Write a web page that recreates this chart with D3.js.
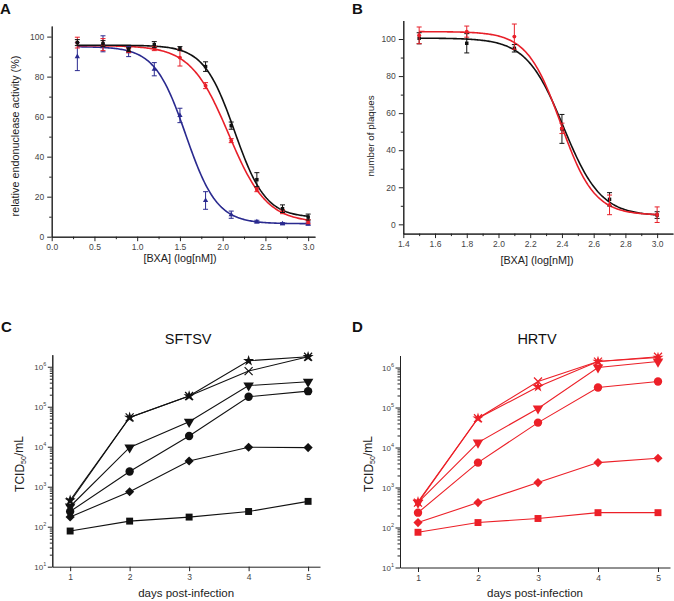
<!DOCTYPE html>
<html>
<head>
<meta charset="utf-8">
<script src="https://cdn.jsdelivr.net/npm/d3@7"></script>
<style>
  body { margin: 0; background: #fff; }
  text { font-family: "Liberation Sans", Arial, sans-serif; }
</style>
</head>
<body>
<script>
// ---- panel A: endonuclease activity (mean, error) ----
var doseA = [0.3, 0.6, 0.9, 1.2, 1.5, 1.8, 2.1, 2.4, 2.7, 3.0];
var blackA = [97, 96.5, 93.5, 96, 94, 85, 55.5, 28.5, 14, 9.8];
var blackAErr = [1.5, 1.5, 1, 1.5, 1, 2.4, 1.8, 3.5, 1.9, 1.5];
var redA = [97, 96, 93, 94, 89.5, 75.5, 48, 23.5, 12.5, 7.5];
var redAErr = [2.7, 3, 1, 1, 4.2, 1.5, 1, 1, 1, 1];
var blueA = [90, 96.4, 92.5, 83.7, 60.6, 18.1, 11, 7.5, 6.5, 6.5];
var blueAErr = [7, 4, 2.5, 3.3, 3.6, 4.4, 1.8, 0.7, 0.5, 0.8];
// fit parameters: top, bottom, logIC50, hill
var fitA = [[95.7, 9.5, 2.14, 2.4], [95.5, 7, 2.07, 1.95], [95, 6.5, 1.57, 2.38]];

// ---- panel B: plaque numbers ----
var doseB = [1.5, 1.8, 2.1, 2.4, 2.7, 3.0];
var blackB = [100.4, 97.7, 95, 51.5, 13.5, 5];
var blackBErr = [3, 5.2, 2, 7.8, 3.6, 1.8];
var redB = [102, 104, 101.3, 51.8, 10.5, 5.2];
var redBErr = [4.5, 3, 6.8, 2.8, 5.3, 4.2];
var fitB = [[100.5, 4.5, 2.41, 3.7], [104, 5, 2.392, 4.1]];

// ---- panels C/D: growth curves, TCID50/mL ----
var days = [1, 2, 3, 4, 5];
var markers = ["square", "diamond", "circle", "triangle", "x", "star"];
var sftsv = [
  [78, 138, 174, 240, 430],
  [175, 750, 4400, 9700, 9500],
  [240, 2400, 18500, 178000, 245000],
  [320, 9600, 42000, 339000, 422000],
  [420, 54000, 185000, 780000, 1780000],
  [460, 54000, 185000, 1410000, 1780000]
];
var hrtv = [
  [76, 133, 168, 235, 235],
  [133, 420, 1330, 4200, 5400],
  [235, 4200, 42000, 316000, 447000],
  [420, 13300, 95000, 1000000, 1410000],
  [420, 54000, 447000, 1410000, 1860000],
  [440, 54000, 330000, 1410000, 1780000]
];

var RED = "#e8202a", BLUE = "#2a2a8f", DRED = "#ec2028";

var svg = d3.select("body").append("svg")
  .attr("width", 674).attr("height", 601)
  .style("background", "#fff");

function styleAxis(g) {
  g.select(".domain").attr("stroke", "#222").attr("stroke-width", 1);
  g.selectAll(".tick line").attr("stroke", "#222");
  g.selectAll(".tick text").attr("font-size", "8.5px").attr("fill", "#444")
    .attr("font-family", "Liberation Sans, Arial, sans-serif");
}

function drawAxes(x, y, xMajor, xMinor, yMajor, yMinor, xfmt, yfmt) {
  var yb = y.range()[0], xl = x.range()[0];
  svg.append("g").attr("transform", "translate(0," + yb + ")")
    .call(d3.axisBottom(x).tickValues(xMinor).tickSize(2.5).tickSizeOuter(0).tickFormat(""))
    .call(styleAxis);
  svg.append("g").attr("transform", "translate(" + xl + ",0)")
    .call(d3.axisLeft(y).tickValues(yMinor).tickSize(2.5).tickSizeOuter(0).tickFormat(""))
    .call(styleAxis);
  svg.append("g").attr("transform", "translate(0," + yb + ")")
    .call(d3.axisBottom(x).tickValues(xMajor).tickSize(4.5).tickSizeOuter(0).tickFormat(xfmt))
    .call(styleAxis);
  svg.append("g").attr("transform", "translate(" + xl + ",0)")
    .call(d3.axisLeft(y).tickValues(yMajor).tickSize(4.5).tickSizeOuter(0).tickFormat(yfmt))
    .call(styleAxis);
}

function fitCurve(x, y, dose, p, color) {
  var x0 = dose[0], x1 = dose[dose.length - 1];
  var pts = d3.range(0, 201).map(function(i) {
    var d = x0 + (x1 - x0) * i / 200;
    return [d, p[1] + (p[0] - p[1]) / (1 + Math.pow(10, (d - p[2]) * p[3]))];
  });
  svg.append("path").datum(pts)
    .attr("fill", "none").attr("stroke", color).attr("stroke-width", 1.6)
    .attr("d", d3.line().x(function(d) { return x(d[0]); }).y(function(d) { return y(d[1]); }));
}

function errorSeries(x, y, dose, vals, errs, color, sym) {
  var g = svg.append("g");
  dose.forEach(function(d, i) {
    var cx = x(d), lo = y(vals[i] - errs[i]), hi = y(vals[i] + errs[i]);
    g.append("line").attr("x1", cx).attr("x2", cx).attr("y1", lo).attr("y2", hi)
      .attr("stroke", color).attr("stroke-width", 1);
    [lo, hi].forEach(function(yy) {
      g.append("line").attr("x1", cx - 2.5).attr("x2", cx + 2.5).attr("y1", yy).attr("y2", yy)
        .attr("stroke", color).attr("stroke-width", 1);
    });
    g.append("path").attr("d", d3.symbol().type(sym).size(12)())
      .attr("transform", "translate(" + cx + "," + y(vals[i]) + ")")
      .attr("fill", color);
  });
}

function label(x, y, txt, size, opts) {
  opts = opts || {};
  var t = svg.append("text").attr("x", x).attr("y", y)
    .attr("font-size", size + "px").attr("fill", opts.fill || "#222")
    .attr("text-anchor", opts.anchor || "middle")
    .text(txt);
  if (opts.rotate) t.attr("transform", "rotate(-90," + x + "," + y + ")");
  if (opts.bold) t.attr("font-weight", "bold");
  return t;
}

// ================= Panel A =================
var xA = d3.scaleLinear().domain([0, 3.08]).range([51.7, 315]);
var yA = d3.scaleLinear().domain([0, 105.3]).range([236.7, 26]);
drawAxes(xA, yA, d3.range(0, 3.01, 0.5), d3.range(0.25, 3.1, 0.5),
  d3.range(0, 101, 20), d3.range(10, 101, 20), d3.format(".1f"), d3.format("d"));
fitCurve(xA, yA, doseA, fitA[2], BLUE);
fitCurve(xA, yA, doseA, fitA[1], RED);
fitCurve(xA, yA, doseA, fitA[0], "#111");
errorSeries(xA, yA, doseA, blueA, blueAErr, BLUE, d3.symbolTriangle);
errorSeries(xA, yA, doseA, redA, redAErr, RED, d3.symbolCircle);
errorSeries(xA, yA, doseA, blackA, blackAErr, "#111", d3.symbolSquare);
label(18.5, 136, "relative endonuclease activity (%)", 10.8, {rotate: true});
label(180, 262, "[BXA] (log[nM])", 10.8);
label(0, 13.5, "A", 15, {anchor: "start", bold: true, fill: "#111"});

// ================= Panel B =================
var xB = d3.scaleLinear().domain([1.4, 3.1]).range([403.3, 673]);
var yB = d3.scaleLinear().domain([-5, 110]).range([233.6, 20.5]);
drawAxes(xB, yB, d3.range(1.4, 3.01, 0.2), d3.range(1.5, 3.1, 0.2),
  d3.range(0, 101, 20), d3.range(10, 110, 20), d3.format(".1f"), d3.format("d"));
fitCurve(xB, yB, doseB, fitB[0], "#111");
fitCurve(xB, yB, doseB, fitB[1], RED);
errorSeries(xB, yB, doseB, blackB, blackBErr, "#111", d3.symbolSquare);
errorSeries(xB, yB, doseB, redB, redBErr, RED, d3.symbolCircle);
label(374, 136, "number of plaques", 9.8, {rotate: true});
label(537, 264, "[BXA] (log[nM])", 10.8);
label(352, 13.5, "B", 15, {anchor: "start", bold: true, fill: "#111"});

// ================= Panels C & D =================
function markerPath(m) {
  if (m === "square") return d3.symbol().type(d3.symbolSquare).size(48)();
  if (m === "diamond") return d3.symbol().type(d3.symbolSquare).size(42)();
  if (m === "circle") return d3.symbol().type(d3.symbolCircle).size(55)();
  if (m === "triangle") return d3.symbol().type(d3.symbolTriangle).size(48)();
  if (m === "star") return d3.symbol().type(d3.symbolStar).size(38)();
  return "M-4,-4L4,4M-4,4L4,-4";
}
function markerRotate(m) {
  if (m === "diamond") return " rotate(45)";
  if (m === "triangle") return " rotate(180)";
  return "";
}

function growthPanel(data, x, y, color, title, letter, lx) {
  var xl = x.range()[0], yb = y.range()[0];
  var decades = [10, 100, 1000, 10000, 100000, 1000000];
  var minors = [];
  decades.forEach(function(d) { for (var k = 2; k <= 9; k++) if (d * k < y.domain()[1]) minors.push(d * k); });
  svg.append("g").attr("transform", "translate(" + xl + ",0)")
    .call(d3.axisLeft(y).tickValues(minors).tickSize(2.5).tickSizeOuter(0).tickFormat(""))
    .call(styleAxis);
  var ya = svg.append("g").attr("transform", "translate(" + xl + ",0)")
    .call(d3.axisLeft(y).tickValues(decades).tickSize(4.5).tickSizeOuter(0).tickFormat(""))
    .call(styleAxis);
  ya.selectAll(".tick").each(function(d) {
    var t = d3.select(this).append("text").attr("x", -6).attr("dy", "0.32em")
      .attr("text-anchor", "end").attr("font-size", "8px").attr("fill", "#444");
    t.append("tspan").text("10");
    t.append("tspan").attr("font-size", "5.5px").attr("dy", "-0.7em").text(Math.round(Math.log10(d)));
  });
  svg.append("g").attr("transform", "translate(0," + yb + ")")
    .call(d3.axisBottom(x).tickValues(days).tickSize(4.5).tickSizeOuter(0).tickFormat(d3.format("d")))
    .call(styleAxis);

  var line = d3.line().x(function(d, i) { return x(days[i]); }).y(function(d) { return y(d); });
  data.forEach(function(s) {
    svg.append("path").datum(s).attr("fill", "none").attr("stroke", color)
      .attr("stroke-width", 1.1).attr("d", line);
  });
  data.forEach(function(s, k) {
    var m = markers[k];
    s.forEach(function(v, i) {
      var p = svg.append("path").attr("d", markerPath(m))
        .attr("transform", "translate(" + x(days[i]) + "," + y(v) + ")" + markerRotate(m));
      if (m === "x") p.attr("fill", "none").attr("stroke", color).attr("stroke-width", 1.2);
      else p.attr("fill", color);
    });
  });

  var cx = (x.range()[0] + x.range()[1]) / 2;
  label(cx + 2, 343.5, title, 14.5, {fill: "#111"});
  label(cx, 597, "days post-infection", 11.5);
  var yl = svg.append("text").attr("x", lx).attr("y", 464).attr("text-anchor", "middle")
    .attr("font-size", "12px").attr("fill", "#222")
    .attr("transform", "rotate(-90," + lx + ",464)");
  yl.append("tspan").text("TCID");
  yl.append("tspan").attr("font-size", "7px").attr("dy", "0.35em").text("50");
  yl.append("tspan").attr("dy", "-0.25em").text("/mL");
  label(letter === "C" ? 1 : 352, 332, letter, 15, {anchor: "start", bold: true, fill: "#111"});
}

var xC = d3.scaleLinear().domain([0.7, 5.2]).range([52.3, 320]);
var yC = d3.scaleLog().domain([10, 2000000]).range([566.7, 354.7]);
growthPanel(sftsv, xC, yC, "#111", "SFTSV", "C", 24);

var xD = d3.scaleLinear().domain([0.7, 5.2]).range([400, 670]);
var yD = d3.scaleLog().domain([10, 2000000]).range([567.5, 355.5]);
growthPanel(hrtv, xD, yD, DRED, "HRTV", "D", 373);
</script>
</body>
</html>
